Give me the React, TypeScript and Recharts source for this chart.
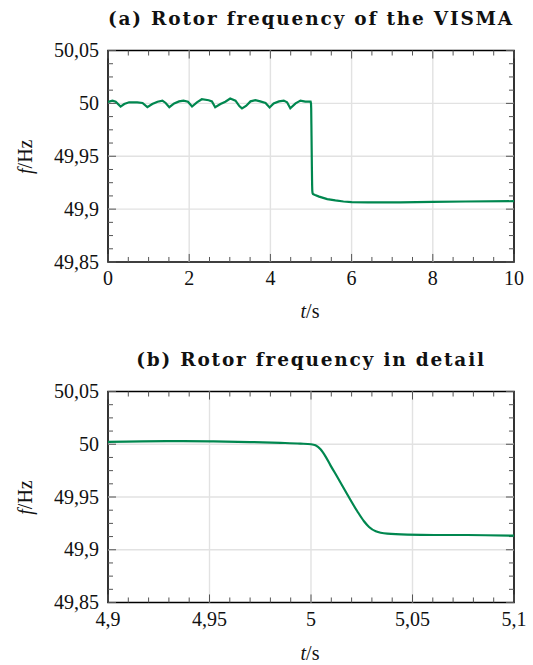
import { LineChart, Line, XAxis, YAxis, ReferenceLine, ReferenceArea } from 'recharts';

// (a) overview: rotor frequency over 10 s
const overviewTime = [
  0, 0.11, 0.19, 0.31, 0.4, 0.52, 0.72, 0.85, 0.97, 1.09, 1.22, 1.34, 1.42, 1.51, 1.63, 1.75,
  1.86, 1.97, 2.07, 2.19, 2.31, 2.48, 2.56, 2.64, 2.77, 2.89, 3.01, 3.14, 3.24, 3.3, 3.4, 3.51,
  3.63, 3.75, 3.88, 3.98, 4.08, 4.21, 4.33, 4.41, 4.49, 4.62, 4.74, 4.86, 4.99, 5.0,
  5.0047, 5.0096, 5.0129, 5.0179, 5.0228, 5.0261, 5.0286, 5.0319, 5.0376, 5.0475, 5.0607, 5.1,
  5.2, 5.4, 5.6, 5.8, 6.0, 6.4, 7.2, 8.0, 8.8, 10,
];
const overviewFreq = [
  50.0014, 50.0026, 50.0016, 49.997, 49.9994, 50.001, 50.001, 50.0004, 49.9964, 49.9994, 50.0016, 50.0026, 50.0004, 49.9964, 50.0, 50.0019,
  50.0026, 50.0016, 49.997, 50.001, 50.0039, 50.003, 50.0019, 49.9964, 49.9994, 50.0016, 50.0046, 50.0026, 49.9972, 49.9952, 49.9976, 50.0019,
  50.003, 50.0019, 50.0004, 49.9961, 50.0, 50.0019, 50.0026, 50.001, 49.9954, 50.0, 50.0026, 50.0016, 50.0016, 50.0,
  49.9952, 49.98, 49.9692, 49.9524, 49.9365, 49.927, 49.9216, 49.9175, 49.9152, 49.9143, 49.914, 49.9133,
  49.9118, 49.9095, 49.9082, 49.9072, 49.9067, 49.9063, 49.9063, 49.9069, 49.9072, 49.9075,
];

// (b) detail around the step at t = 5 s
const detailTime = [
  4.9, 4.929, 4.9504, 4.97, 4.985, 4.9948, 5.0, 5.0022, 5.0047, 5.0072, 5.0096, 5.0129, 5.0179,
  5.0228, 5.0261, 5.0286, 5.0319, 5.0376, 5.0475, 5.0607, 5.0771, 5.1,
];
const detailFreq = [
  50.0022, 50.0029, 50.0027, 50.0021, 50.0013, 50.0006, 50.0, 49.999, 49.9952, 49.9883, 49.98, 49.9692, 49.9524,
  49.9365, 49.927, 49.9216, 49.9175, 49.9152, 49.9143, 49.914, 49.914, 49.9133,
];

const overviewXTicks = [0, 2, 4, 6, 8, 10];
const detailXTicks = [4.9, 4.95, 5, 5.05, 5.1];
const freqTicks = [49.85, 49.9, 49.95, 50, 50.05];

const LINE_COLOR = '#00874f';
const TICK_COLOR = '#555';
const GRID_COLOR = '#e2e2e2';
const PLOT_W = 405;
const labelFont = { fontFamily: "'Liberation Serif', serif", fontSize: 20, fill: '#111' };
const titleFont = { fontFamily: "'DejaVu Serif', serif", fontSize: 18.5, fontWeight: 700, fill: '#111', letterSpacing: 1.8 };

const steps = (from: number, to: number, step: number) => {
  const out: number[] = [];
  for (let v = from; v <= to + step / 2; v += step) out.push(+v.toFixed(5));
  return out;
};

const fmt = (v: number) => String(+v.toFixed(4)).replace('.', ',');
const isMajor = (v: number, majors: number[]) => majors.some((m) => Math.abs(m - v) < 1e-7);

// eslint-disable-next-line @typescript-eslint/no-explicit-any
const XLabel = (props: any) => (
  <text x={props.x} y={Number(props.y) + 23} textAnchor="middle" style={labelFont}>{fmt(Number(props.payload.value))}</text>
);
// eslint-disable-next-line @typescript-eslint/no-explicit-any
const YLabel = (props: any) => (
  <text x={Number(props.x) - 9} y={Number(props.y) + 6.5} textAnchor="end" style={labelFont}>{fmt(Number(props.payload.value))}</text>
);

interface PanelProps {
  time: number[];
  freq: number[];
  xMajor: number[];
  xMinorStep: number;
  height: number;
  plotH: number;
  margin: { top: number; right: number; bottom: number; left: number };
  curve: 'linear' | 'monotone';
}

// axes are 1px thick (a 0px axis is not drawn), so margins are 1px smaller than the plot offsets
function Panel({ time, freq, xMajor, xMinorStep, height, plotH, margin, curve }: PanelProps) {
  const data = time.map((t, i) => ({ t, f: freq[i] }));
  const [x0, x1] = [xMajor[0], xMajor[xMajor.length - 1]];
  const [y0, y1] = [freqTicks[0], freqTicks[freqTicks.length - 1]];
  const xPerPx = (x1 - x0) / PLOT_W;
  const yPerPx = (y1 - y0) / plotH;
  const xTicks = steps(x0, x1, xMinorStep);
  const yTicks = steps(y0, y1, 0.0125);
  const tickLen = (v: number, majors: number[]) => (isMajor(v, majors) ? 8 : 5);

  return (
    <LineChart width={533} height={height} data={data} margin={margin}>
      <XAxis xAxisId="b" dataKey="t" type="number" domain={[x0, x1]} ticks={xMajor} interval={0}
        allowDataOverflow height={1} tickSize={0} tickMargin={0} axisLine={false} tickLine={false} tick={XLabel} />
      <YAxis yAxisId="l" dataKey="f" type="number" domain={[y0, y1]} ticks={freqTicks} interval={0}
        allowDataOverflow width={1} tickSize={0} tickMargin={0} axisLine={false} tickLine={false} tick={YLabel} />
      {xMajor.slice(1, -1).map((v) => (
        <ReferenceLine key={`gx${v}`} x={v} xAxisId="b" yAxisId="l" stroke={GRID_COLOR} strokeWidth={1.4} />
      ))}
      {freqTicks.slice(1, -1).map((v) => (
        <ReferenceLine key={`gy${v}`} y={v} xAxisId="b" yAxisId="l" stroke={GRID_COLOR} strokeWidth={1.4} />
      ))}
      {xTicks.map((v) => {
        const d = tickLen(v, xMajor) * yPerPx;
        return [
          <ReferenceLine key={`xb${v}`} xAxisId="b" yAxisId="l" ifOverflow="visible" stroke={TICK_COLOR} strokeWidth={1}
            segment={[{ x: v, y: y0 }, { x: v, y: y0 + d }]} />,
          <ReferenceLine key={`xt${v}`} xAxisId="b" yAxisId="l" ifOverflow="visible" stroke={TICK_COLOR} strokeWidth={1}
            segment={[{ x: v, y: y1 }, { x: v, y: y1 - d }]} />,
        ];
      })}
      {yTicks.map((v) => {
        const d = tickLen(v, freqTicks) * xPerPx;
        return [
          <ReferenceLine key={`yl${v}`} xAxisId="b" yAxisId="l" ifOverflow="visible" stroke={TICK_COLOR} strokeWidth={1}
            segment={[{ x: x0, y: v }, { x: x0 + d, y: v }]} />,
          <ReferenceLine key={`yr${v}`} xAxisId="b" yAxisId="l" ifOverflow="visible" stroke={TICK_COLOR} strokeWidth={1}
            segment={[{ x: x1, y: v }, { x: x1 - d, y: v }]} />,
        ];
      })}
      <Line xAxisId="b" yAxisId="l" dataKey="f" type={curve} stroke={LINE_COLOR} strokeWidth={2.2}
        dot={false} activeDot={false} isAnimationActive={false} />
      <ReferenceArea xAxisId="b" yAxisId="l" x1={x0} x2={x1} y1={y0} y2={y1}
        fill="none" fillOpacity={0} stroke="#000" strokeWidth={1.6} ifOverflow="visible" />
    </LineChart>
  );
}

function AxisLabels({ titleY, title, plotTop, plotBottom, xLabelY }: { titleY: number; title: string; plotTop: number; plotBottom: number; xLabelY: number }) {
  const cy = (plotTop + plotBottom) / 2;
  return (
    <>
      <text x={311} y={titleY} textAnchor="middle" style={titleFont}>{title}</text>
      <text x={310} y={xLabelY} textAnchor="middle" style={labelFont}>
        <tspan fontStyle="italic">t</tspan>/s
      </text>
      <text x={32} y={cy} textAnchor="middle" transform={`rotate(-90 32 ${cy})`} style={labelFont}>
        <tspan fontStyle="italic">f</tspan>/Hz
      </text>
    </>
  );
}

export default function App() {
  return (
    <div style={{ position: 'absolute', left: 0, top: 0, width: 533, height: 665, background: '#fff' }}>
      <div style={{ position: 'absolute', left: 0, top: 0 }}>
        <Panel time={overviewTime} freq={overviewFreq} xMajor={overviewXTicks} xMinorStep={0.5}
          height={333} plotH={210.5} margin={{ top: 50.5, right: 19, bottom: 70, left: 107 }} curve="linear" />
      </div>
      <div style={{ position: 'absolute', left: 0, top: 333 }}>
        <Panel time={detailTime} freq={detailFreq} xMajor={detailXTicks} xMinorStep={0.01}
          height={332} plotH={210} margin={{ top: 58.5, right: 19, bottom: 61.5, left: 107 }} curve="monotone" />
      </div>
      <svg width={533} height={665} style={{ position: 'absolute', left: 0, top: 0, pointerEvents: 'none' }}>
        <AxisLabels titleY={25} title="(a) Rotor frequency of the VISMA" plotTop={51.5} plotBottom={262} xLabelY={318} />
        <AxisLabels titleY={366} title="(b) Rotor frequency in detail" plotTop={392.5} plotBottom={602.5} xLabelY={660} />
      </svg>
    </div>
  );
}
